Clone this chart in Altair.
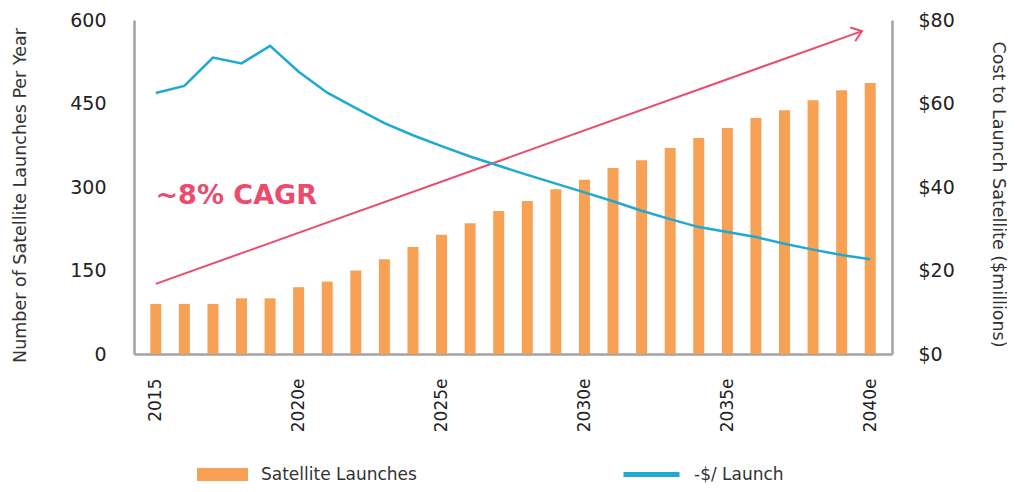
import altair as alt
import pandas as pd

years = list(range(2015, 2041))
launches = [90, 90, 90, 100, 100, 120, 130, 150, 170, 192, 214, 235, 257, 275, 296,
            313, 334, 348, 370, 388, 406, 424, 438, 456, 474, 487]
cost = [62.5, 64.2, 71.0, 69.6, 73.8, 67.6, 62.6, 58.9, 55.3, 52.4, 49.8, 47.3, 45.1,
        42.9, 40.8, 38.7, 36.6, 34.3, 32.3, 30.4, 29.2, 28.0, 26.4, 25.0, 23.7, 22.7]
tick_years = [2015, 2020, 2025, 2030, 2035, 2040]
arrow_x = [2015, 2039.71]
arrow_y = [126, 580]
cagr_label = "~8% CAGR"
cagr_pos = (2014.99, 284)

ORANGE = "#F7A155"
BLUE = "#1FA9D3"
RED = "#EB4B6C"
GRAY = "#A3A3A6"
FONT = "DejaVu Sans"

df = pd.DataFrame({"year": years, "launches": launches, "cost": cost,
                   "s1": "Satellite Launches", "s2": "-$/ Launch"})
arrow_df = pd.DataFrame({"x": arrow_x, "y": arrow_y})
head_df = pd.DataFrame({"x": [arrow_x[1]], "y": [arrow_y[1]]})
text_df = pd.DataFrame({"x": [cagr_pos[0]], "y": [cagr_pos[1]], "t": [cagr_label]})

xscale = alt.Scale(domain=[2014.413, 2040.587], nice=False, zero=False)
yleft = alt.Scale(domain=[0, 600], nice=False)
yright = alt.Scale(domain=[0, 80], nice=False)

bars = alt.Chart(df).mark_bar(size=11).encode(
    x=alt.X("year:Q", scale=xscale, title=None,
            axis=alt.Axis(values=tick_years, labelAngle=270, labelFontSize=17,
                          labelColor="#222", labelFont=FONT, labelPadding=24,
                          ticks=False, tickSize=0, grid=False, domainColor=GRAY,
                          domainWidth=2.5,
                          labelExpr="datum.value == 2015 ? '2015' : datum.value + 'e'")),
    y=alt.Y("launches:Q", scale=yleft, title="Number of Satellite Launches Per Year",
            axis=alt.Axis(values=[0, 150, 300, 450, 600], labelFontSize=19,
                          labelColor="#222", labelFont=FONT, labelPadding=28,
                          ticks=False, tickSize=0, grid=False, domainColor=GRAY,
                          domainWidth=2.5, titleFont=FONT, titleFontSize=17.5,
                          titleFontWeight="normal", titleColor="#333",
                          titleAngle=270, titleX=-114, titleY=175,
                          titleAlign="center", titleBaseline="middle")),
    fill=alt.Fill("s1:N", scale=alt.Scale(range=[ORANGE]),
                  legend=alt.Legend(title=None, orient="none", legendX=63, legendY=429,
                                    symbolType="M-1,-0.255H1V0.255H-1Z", symbolSize=2601,
                                    symbolStrokeWidth=0, labelFont=FONT, labelFontSize=17,
                                    labelColor="#333", labelOffset=13, padding=0)),
)

arrow = alt.Chart(arrow_df).mark_line(color=RED, strokeWidth=2).encode(
    x=alt.X("x:Q", scale=xscale),
    y=alt.Y("y:Q", scale=yleft),
)
head = alt.Chart(head_df).mark_point(shape="M-1,-0.75L0,0L-1,0.75", filled=False,
                                     color=RED, strokeWidth=2, size=380, angle=340.5,
                                     opacity=1).encode(
    x=alt.X("x:Q", scale=xscale),
    y=alt.Y("y:Q", scale=yleft),
)
text = alt.Chart(text_df).mark_text(align="left", baseline="middle", fontSize=27,
                                    fontWeight="bold", font=FONT, color=RED).encode(
    x=alt.X("x:Q", scale=xscale),
    y=alt.Y("y:Q", scale=yleft),
    text="t:N",
)

line = alt.Chart(df).mark_line(strokeWidth=2.5).encode(
    x=alt.X("year:Q", scale=xscale),
    y=alt.Y("cost:Q", scale=yright, title="Cost to Launch Satellite ($millions)",
            axis=alt.Axis(orient="right", values=[0, 20, 40, 60, 80], labelFontSize=19,
                          labelColor="#222", labelFont=FONT, labelPadding=26,
                          labelExpr="'$' + datum.value",
                          ticks=False, tickSize=0, grid=False, domainColor=GRAY,
                          domainWidth=2.5, titleFont=FONT, titleFontSize=17.5,
                          titleFontWeight="normal", titleColor="#333",
                          titleAngle=90, titleX=105, titleY=174,
                          titleAlign="center", titleBaseline="middle")),
    stroke=alt.Stroke("s2:N", scale=alt.Scale(range=[BLUE]),
                      legend=alt.Legend(title=None, orient="none", legendX=487, legendY=424,
                                        symbolType="stroke", symbolSize=3136,
                                        symbolStrokeWidth=5, labelFont=FONT,
                                        labelFontSize=17, labelColor="#333",
                                        labelOffset=12, padding=0)),
)

left = alt.layer(bars, arrow, head, text)
chart = alt.layer(left, line).resolve_scale(y="independent", fill="independent",
                                            stroke="independent").properties(
    width=758, height=334,
    padding={"left": 126, "top": 12, "right": 115, "bottom": 130},
    autosize=alt.AutoSizeParams(type="none"),
    background="white",
).configure_view(stroke="transparent", strokeWidth=0)

chart.save("out.html", embed_options={"renderer": "svg", "actions": False})
